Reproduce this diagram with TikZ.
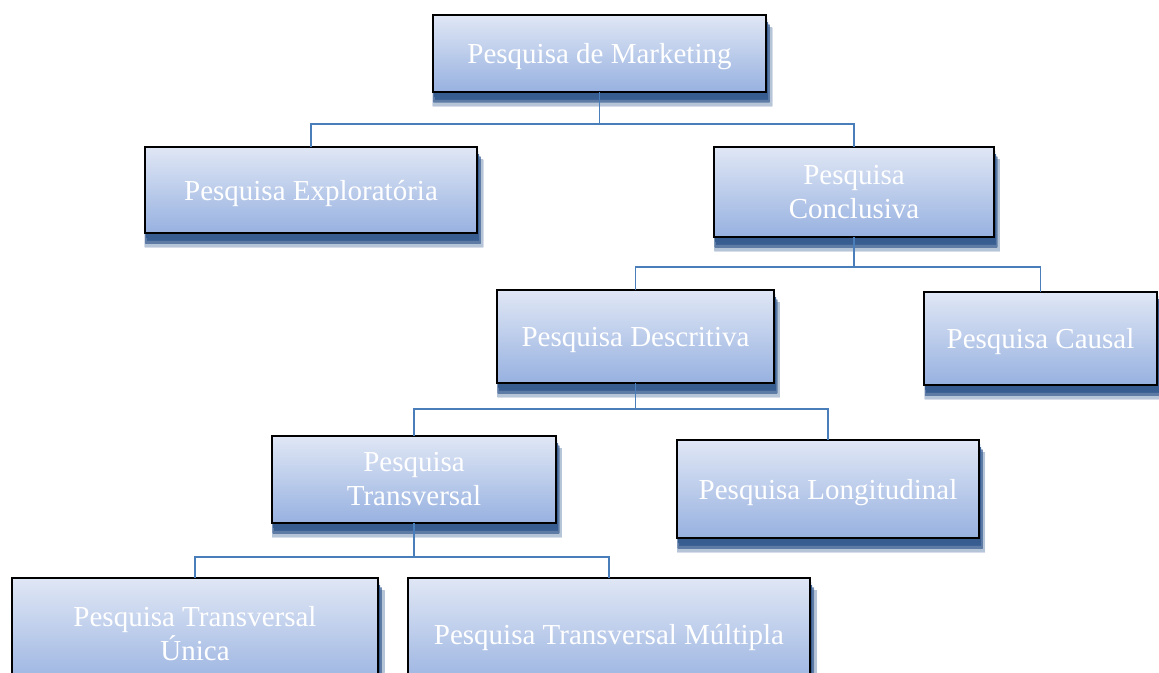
\documentclass[tikz,border=0pt]{standalone}
\usepackage{fontspec}
\setmainfont{Liberation Serif}
\usetikzlibrary{shadows,calc}
\definecolor{boxtop}{HTML}{E0E7F5}
\definecolor{boxbot}{HTML}{97B1E0}
\definecolor{conncol}{HTML}{4A7EBB}
\definecolor{shadcol}{HTML}{365C90}
\tikzset{
  shad/.style={top color=shadcol, bottom color=shadcol, fill=shadcol},
  box/.style={draw=black, line width=2.2pt, top color=boxtop, bottom color=boxbot,
    text=white, align=center, inner sep=0pt, outer sep=0pt,
    font=\fontsize{29}{34}\selectfont,
    drop shadow={shadow xshift=3pt, shadow yshift=-13pt, shadow scale=1.02, shad, opacity=0.2},
    drop shadow={shadow xshift=2pt, shadow yshift=-10pt, shadow scale=1.01, shad, opacity=0.45},
    drop shadow={shadow xshift=2pt, shadow yshift=-7pt, shad, opacity=0.8},
    drop shadow={shadow xshift=1pt, shadow yshift=-4pt, shad, opacity=1}},
  one/.style={text height=26pt, text depth=6pt},
  two/.style={text height=58pt, text depth=6pt},
  conn/.style={draw=conncol, line width=1.8pt}
}
\begin{document}
\begin{tikzpicture}[x=1pt,y=-1pt]
\useasboundingbox (0,0) rectangle (1159,672);
\node[box, one, minimum width=333pt, minimum height=77pt] (m) at (599.5,53.5) {Pesquisa de Marketing};
\node[box, one, minimum width=332pt, minimum height=86pt] (e) at (311,190) {Pesquisa Exploratória};
\node[box, two, minimum width=280pt, minimum height=90pt] (c) at (854,192) {Pesquisa\\Conclusiva};
\node[box, one, minimum width=277pt, minimum height=93pt] (d) at (635.5,336.5) {Pesquisa Descritiva};
\node[box, one, minimum width=233pt, minimum height=93pt] (k) at (1040.5,338.5) {Pesquisa Causal};
\node[box, two, minimum width=284pt, minimum height=87pt] (t) at (414,479.5) {Pesquisa\\Transversal};
\node[box, one, minimum width=302pt, minimum height=98pt] (l) at (828,489) {Pesquisa Longitudinal};
\node[box, two, minimum width=366pt, minimum height=112pt] (u) at (195,634) {Pesquisa Transversal\\Única};
\node[box, one, minimum width=402pt, minimum height=112pt] (p) at (609,634) {Pesquisa Transversal Múltipla};
% connectors
\coordinate (j1) at (0,124);
\coordinate (j2) at (0,267);
\coordinate (j3) at (0,409);
\coordinate (j4) at (0,557);
\draw[conn] (m.south) -- (m.south |- j1);
\draw[conn] (e.north) -- (e.north |- j1) -- (c.north |- j1) -- (c.north);
\draw[conn] (c.south) -- (c.south |- j2);
\draw[conn] (d.north) -- (d.north |- j2) -- (k.north |- j2) -- (k.north);
\draw[conn] (d.south) -- (d.south |- j3);
\draw[conn] (t.north) -- (t.north |- j3) -- (l.north |- j3) -- (l.north);
\draw[conn] (t.south) -- (t.south |- j4);
\draw[conn] (u.north) -- (u.north |- j4) -- (p.north |- j4) -- (p.north);
\end{tikzpicture}
\end{document}
